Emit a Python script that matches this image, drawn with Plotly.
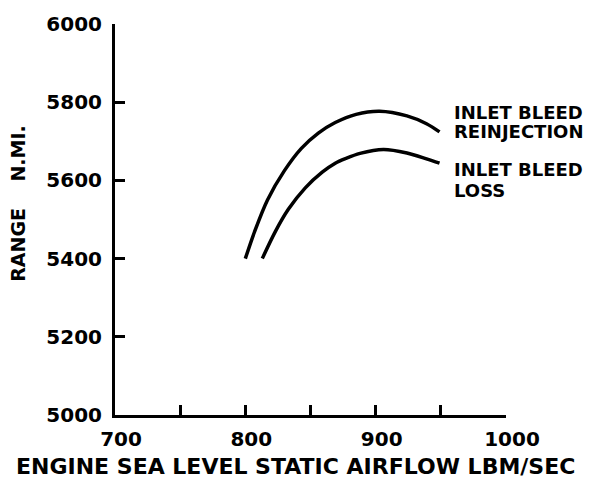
import plotly.graph_objects as go

# Data
reinj_x = [800, 807, 817, 830, 843, 856, 869, 885, 903, 924, 939, 949]
reinj_y = [5400, 5468, 5550, 5625, 5682, 5721, 5748, 5769, 5777, 5765, 5745, 5724]

loss_x = [813, 823, 833, 846, 859, 869, 877, 888, 906, 924, 939, 949]
loss_y = [5400, 5469, 5526, 5581, 5621, 5644, 5656, 5669, 5679, 5670, 5655, 5644]

label_lines = ["INLET BLEED", "REINJECTION", "INLET BLEED", "LOSS"]
label_y = [5774, 5724, 5629, 5574]

x_title = "ENGINE SEA LEVEL STATIC AIRFLOW LBM/SEC"
y_title = "RANGE\u00a0\u00a0\u00a0\u00a0N.MI."

x_ticks = [700, 800, 900, 1000]
x_minor = [750, 850, 950]
y_ticks = [5000, 5200, 5400, 5600, 5800, 6000]

FONT = "DejaVu Sans"

fig = go.Figure()
for xs, ys in [(reinj_x, reinj_y), (loss_x, loss_y)]:
    fig.add_trace(go.Scatter(x=xs, y=ys, mode="lines",
                             line=dict(color="black", width=3.5, shape="spline", smoothing=0.9),
                             showlegend=False, hoverinfo="skip"))

for txt, yy in zip(label_lines, label_y):
    fig.add_annotation(x=958.6, y=yy, xref="x", yref="y", text=txt, showarrow=False,
                       xanchor="left", yanchor="middle",
                       font=dict(family=FONT, size=18, color="black", weight="bold"))

fig.add_annotation(x=0.4616, y=-0.1328, xref="paper", yref="paper", text=x_title,
                   showarrow=False, xanchor="center", yanchor="middle",
                   font=dict(family=FONT, size=22, color="black", weight="bold"))
fig.add_annotation(x=-0.2468, y=0.5414, xref="paper", yref="paper", text=y_title,
                   showarrow=False, xanchor="center", yanchor="middle", textangle=-90,
                   font=dict(family=FONT, size=19, color="black", weight="bold"))

fig.update_layout(
    width=610, height=483,
    margin=dict(l=115, r=104, t=16, b=68),
    paper_bgcolor="white", plot_bgcolor="white",
    xaxis=dict(range=[700, 1000], tickvals=x_ticks, ticktext=[str(v) for v in x_ticks],
               showgrid=False, zeroline=False,
               showline=True, linecolor="black", linewidth=3,
               ticks="inside", ticklen=10, tickwidth=3, tickcolor="black",
               minor=dict(tickvals=x_minor, ticks="inside", ticklen=10,
                          tickwidth=3, tickcolor="black", showgrid=False),
               ticklabelstandoff=4, ticklabelshift=6,
               tickfont=dict(family=FONT, size=20, color="black", weight="bold")),
    yaxis=dict(range=[5000, 6000], tickvals=y_ticks, ticktext=[str(v) for v in y_ticks],
               showgrid=False, zeroline=False,
               showline=True, linecolor="black", linewidth=3,
               ticks="inside", ticklen=10, tickwidth=3, tickcolor="black",
               ticklabelstandoff=6,
               tickfont=dict(family=FONT, size=20, color="black", weight="bold")),
)

fig.write_html("out.html")
